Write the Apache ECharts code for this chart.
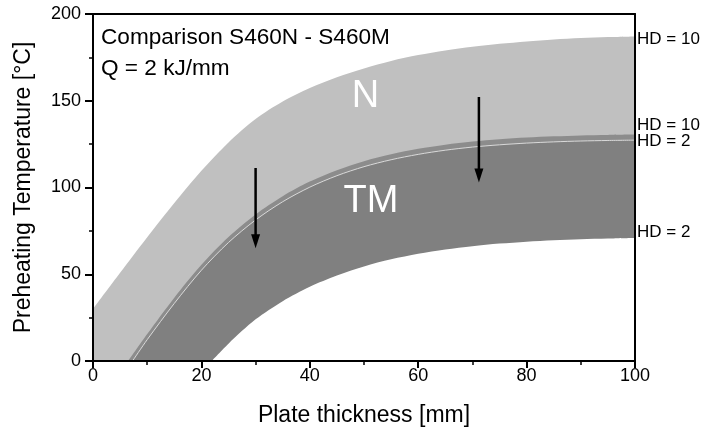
<!DOCTYPE html>
<html>
<head>
<meta charset="utf-8">
<script src="https://cdn.jsdelivr.net/npm/echarts@6/dist/echarts.min.js"></script>
<style>
html,body{margin:0;padding:0;background:#fff;}
#chart{width:704px;height:430px;}
</style>
</head>
<body>
<div id="chart"></div>
<script>
// ---- data ----
const xTicks = [0, 20, 40, 60, 80, 100];
const yTicks = [0, 50, 100, 150, 200];
// N steel, HD = 10 (upper edge of light band)
const nUpper = [[0,30],[5,50.8],[10,71.3],[15,91],[20,109.6],[25,126],[30,139.5],[35,149.6],[40,157.3],[45,163.5],[50,168.6],[55,172.9],[60,176.3],[65,179],[70,181.1],[75,182.8],[80,184.2],[85,185.3],[90,186.1],[95,186.7],[100,187.1]];
// N steel, HD = 2 (thin light line)
const nLower = [[7.3,0],[10,12.3],[15,33.2],[20,52.3],[25,68.3],[30,81.3],[35,91.8],[40,100.2],[45,106.8],[50,112],[55,116],[60,119.1],[65,121.5],[70,123.3],[75,124.6],[80,125.6],[85,126.3],[90,126.8],[95,127.1],[100,127.3]];
// TM steel, HD = 10
const tmUpper = [[6.5,0],[10,15.5],[15,36.5],[20,55.5],[25,71.5],[30,84.5],[35,95],[40,103.4],[45,110],[50,115.2],[55,119.2],[60,122.3],[65,124.7],[70,126.5],[75,127.8],[80,128.8],[85,129.5],[90,130],[95,130.3],[100,130.5]];
// TM steel, HD = 2
const tmLower = [[21.9,0],[25,10],[30,24],[35,34.5],[40,42.8],[45,49.3],[50,54.5],[55,58.6],[60,61.8],[65,64.3],[70,66.2],[75,67.7],[80,68.8],[85,69.6],[90,70.2],[95,70.6],[100,70.9]];
// arrows: x, y of tail, y of arrow-head centre
const arrowX = [30, 71.2];
const arrowTail = [111.2, 152.1];
const arrowHead = [69.0, 106.9];
const bandLabels = ['N', 'TM'];
const titleLines = ['Comparison S460N - S460M', 'Q = 2 kJ/mm'];
const endLabels = ['HD = 10', 'HD = 10', 'HD = 2', 'HD = 2'];

const FONT = '"Liberation Sans", Arial, sans-serif';
const chart = echarts.init(document.getElementById('chart'), null, {renderer: 'canvas'});

function areaSeries(data, color, endText, endOffsetY, lineStyle, z) {
  return {
    type: 'line',
    data: data,
    smooth: 0.3,
    showSymbol: false,
    symbol: 'none',
    silent: true,
    z: z,
    lineStyle: lineStyle || {width: 0, opacity: 0},
    areaStyle: {color: color, opacity: 1},
    endLabel: {
      show: true,
      formatter: endText,
      color: '#000',
      fontSize: 17,
      fontFamily: FONT,
      distance: 2,
      offset: [0, endOffsetY]
    }
  };
}

const arrowSeries = [];
arrowX.forEach((x, i) => {
  arrowSeries.push({
    type: 'line', silent: true, z: 8, symbol: 'none', showSymbol: false,
    data: [[x, arrowTail[i]], [x, arrowHead[i]]],
    lineStyle: {color: '#000', width: 2.5}
  });
});
arrowSeries.push({
  type: 'scatter', silent: true, z: 9,
  data: arrowX.map((x, i) => [x, arrowHead[i]]),
  symbol: 'triangle', symbolSize: [9, 14], symbolRotate: 180,
  itemStyle: {color: '#000', opacity: 1}
});

const option = {
  animation: false,
  backgroundColor: '#fff',
  grid: {left: 93, top: 14, width: 542, height: 347, containLabel: false, outerBoundsMode: 'none'},
  xAxis: [{
    type: 'value', min: 0, max: 100, interval: 20, z: 10,
    name: 'Plate thickness [mm]', nameLocation: 'middle', nameGap: 43,
    nameTextStyle: {color: '#000', fontSize: 23, fontFamily: FONT},
    axisLine: {show: true, onZero: false, lineStyle: {color: '#000', width: 2}},
    axisTick: {show: true, length: 7, lineStyle: {color: '#000', width: 2}},
    minorTick: {show: true, splitNumber: 2, length: 4, lineStyle: {color: '#000', width: 1.5}},
    axisLabel: {color: '#000', fontSize: 18, fontFamily: FONT, margin: 6,
      formatter: v => (xTicks.indexOf(v) >= 0 ? String(v) : '')},
    splitLine: {show: false}
  }, {
    type: 'value', min: 0, max: 100, position: 'top', z: 10,
    axisLine: {show: true, onZero: false, lineStyle: {color: '#000', width: 2}},
    axisTick: {show: false}, axisLabel: {show: false}, splitLine: {show: false}
  }],
  yAxis: [{
    type: 'value', min: 0, max: 200, interval: 50, z: 10,
    name: 'Preheating Temperature [°C]', nameLocation: 'middle', nameGap: 58,
    nameTextStyle: {color: '#000', fontSize: 23, fontFamily: FONT},
    axisLine: {show: true, onZero: false, lineStyle: {color: '#000', width: 2}},
    axisTick: {show: true, length: 8, lineStyle: {color: '#000', width: 2}},
    minorTick: {show: true, splitNumber: 2, length: 4, lineStyle: {color: '#000', width: 1.5}},
    axisLabel: {color: '#000', fontSize: 18, fontFamily: FONT, margin: 12,
      formatter: v => (yTicks.indexOf(v) >= 0 ? String(v) : '')},
    splitLine: {show: false}
  }, {
    type: 'value', min: 0, max: 200, position: 'right', z: 10,
    axisLine: {show: true, onZero: false, lineStyle: {color: '#000', width: 2}},
    axisTick: {show: false}, axisLabel: {show: false}, splitLine: {show: false}
  }],
  series: [
    areaSeries(nUpper, '#c0c0c0', endLabels[0], 2.5, null, 2),
    areaSeries(tmUpper, '#8c8c8c', endLabels[1], -9, null, 3),
    areaSeries(nLower, '#808080', endLabels[2], 1.4, {width: 1, color: '#d9d9d9'}, 4),
    areaSeries(tmLower, '#ffffff', endLabels[3], -5.6, null, 5)
  ].concat(arrowSeries),
  graphic: [
    {type: 'text', x: 101, y: 37.5, z: 20, style: {text: titleLines[0], fill: '#000', fontSize: 22.6, fontFamily: FONT, align: 'left', verticalAlign: 'middle'}},
    {type: 'text', x: 101, y: 69, z: 20, style: {text: titleLines[1], fill: '#000', fontSize: 22.6, fontFamily: FONT, align: 'left', verticalAlign: 'middle'}},
    {type: 'text', x: 365.5, y: 96.5, z: 20, style: {text: bandLabels[0], fill: '#fff', fontSize: 38, fontFamily: FONT, align: 'center', verticalAlign: 'middle'}},
    {type: 'text', x: 371, y: 202, z: 20, style: {text: bandLabels[1], fill: '#fff', fontSize: 38, fontFamily: FONT, align: 'center', verticalAlign: 'middle'}}
  ]
};
chart.setOption(option);
</script>
</body>
</html>
